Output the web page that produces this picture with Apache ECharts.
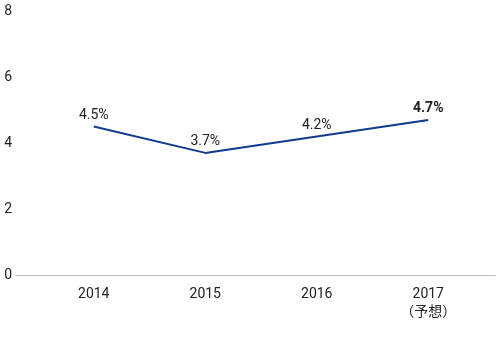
<!DOCTYPE html>
<html>
<head>
<meta charset="utf-8">
<script src="https://cdn.jsdelivr.net/npm/echarts@6/dist/echarts.min.js"></script>
<style>
html, body { margin: 0; padding: 0; background: #fff; }
#chart { width: 500px; height: 350px; }
</style>
</head>
<body>
<div id="chart"></div>
<script>
var years = ['2014', '2015', '2016', '2017\n（予想）'];
var growth = [4.5, 3.7, 4.2, 4.7];
var yTicks = [0, 2, 4, 6, 8];

var chart = echarts.init(document.getElementById('chart'));

var labelFont = {
    fontFamily: 'Roboto, "Noto Sans CJK JP", sans-serif',
    fontSize: 14,
    color: '#222'
};

var lineData = growth.map(function (v, i) {
    var item = {value: v};
    // 最後の点だけ太字
    if (i === growth.length - 1) {
        item.label = {fontWeight: 'bold'};
    }
    return item;
});

var option = {
    animation: false,
    grid: [
        {left: 16, right: 5, top: 11, bottom: 75},
        {left: 38, right: 16, top: 11, bottom: 75}
    ],
    xAxis: [
        {
            gridIndex: 0,
            type: 'value',
            min: 0,
            max: 1,
            axisLine: {show: true, lineStyle: {color: '#bbb', width: 1}},
            axisTick: {show: false},
            axisLabel: {show: false},
            splitLine: {show: false}
        },
        {
            gridIndex: 1,
            type: 'category',
            data: years,
            axisLine: {show: false},
            axisTick: {show: false},
            axisLabel: Object.assign({margin: 10, lineHeight: 18}, labelFont)
        }
    ],
    yAxis: [
        {
            gridIndex: 0,
            type: 'value',
            min: yTicks[0],
            max: yTicks[yTicks.length - 1],
            interval: 2,
            axisLine: {show: false},
            axisTick: {show: false},
            splitLine: {show: false},
            axisLabel: Object.assign({margin: 4}, labelFont)
        },
        {
            gridIndex: 1,
            type: 'value',
            min: 0,
            max: 8,
            interval: 2,
            show: false
        }
    ],
    series: [
        {
            type: 'line',
            xAxisIndex: 1,
            yAxisIndex: 1,
            data: lineData,
            symbol: 'circle',
            symbolSize: 2,
            showSymbol: true,
            itemStyle: {color: 'rgba(0,0,0,0)'},
            lineStyle: {color: '#0f3b8c', width: 2},
            label: Object.assign({
                show: true,
                position: 'top',
                distance: 3,
                formatter: function (p) { return p.value.toFixed(1) + '%'; }
            }, labelFont)
        }
    ]
};

chart.setOption(option);
</script>
</body>
</html>
